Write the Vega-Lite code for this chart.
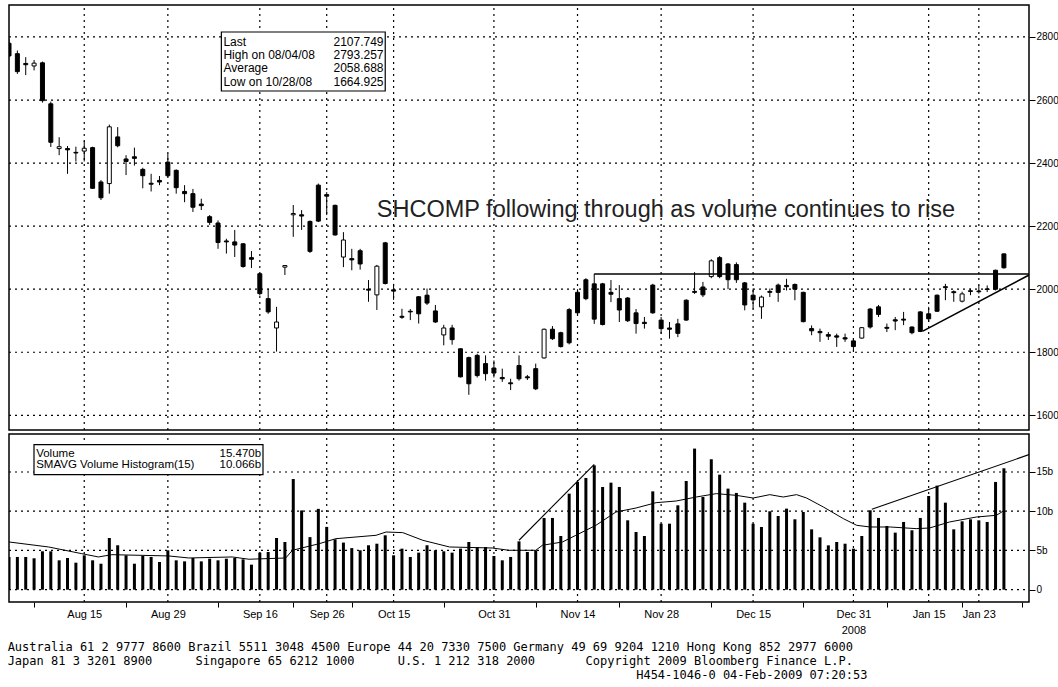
{
  "$schema": "https://vega.github.io/schema/vega-lite/v6.json",
  "background": "white",
  "padding": {"left": 7, "top": 3, "right": 0, "bottom": 0},
  "config": {
    "font": "Liberation Sans",
    "view": {"stroke": "#000", "strokeWidth": 1.5},
    "scale": {"continuousPadding": 0},
    "axis": {"labelFont": "Liberation Sans", "labelColor": "#000", "tickColor": "#000", "domainColor": "#000", "labelFontSize": 10, "grid": false}
  },
  "datasets": {
    "candles": [
      {"i":0,"o":2780,"h":2793,"l":2735,"c":2740,"vol":4.17},
      {"i":1,"o":2747,"h":2757,"l":2683,"c":2690,"vol":4.17},
      {"i":2,"o":2716,"h":2736,"l":2679,"c":2712,"vol":4.17},
      {"i":3,"o":2708,"h":2727,"l":2694,"c":2717,"vol":4.0},
      {"i":4,"o":2718,"h":2722,"l":2592,"c":2598,"vol":4.89},
      {"i":5,"o":2588,"h":2595,"l":2451,"c":2466,"vol":4.89},
      {"i":6,"o":2446,"h":2482,"l":2425,"c":2452,"vol":3.74},
      {"i":7,"o":2446,"h":2454,"l":2366,"c":2442,"vol":4.04},
      {"i":8,"o":2434,"h":2452,"l":2405,"c":2432,"vol":3.44},
      {"i":9,"o":2438,"h":2470,"l":2405,"c":2447,"vol":4.38},
      {"i":10,"o":2449,"h":2452,"l":2318,"c":2320,"vol":3.74},
      {"i":11,"o":2340,"h":2346,"l":2283,"c":2290,"vol":3.31},
      {"i":12,"o":2335,"h":2522,"l":2303,"c":2515,"vol":6.59},
      {"i":13,"o":2483,"h":2514,"l":2450,"c":2455,"vol":5.66},
      {"i":14,"o":2413,"h":2425,"l":2362,"c":2405,"vol":4.38},
      {"i":15,"o":2420,"h":2449,"l":2392,"c":2415,"vol":3.31},
      {"i":16,"o":2380,"h":2385,"l":2320,"c":2360,"vol":4.29},
      {"i":17,"o":2336,"h":2366,"l":2310,"c":2333,"vol":4.17},
      {"i":18,"o":2345,"h":2359,"l":2330,"c":2340,"vol":3.53},
      {"i":19,"o":2403,"h":2430,"l":2356,"c":2360,"vol":5.02},
      {"i":20,"o":2377,"h":2380,"l":2303,"c":2322,"vol":3.74},
      {"i":21,"o":2310,"h":2330,"l":2276,"c":2303,"vol":3.61},
      {"i":22,"o":2303,"h":2318,"l":2245,"c":2260,"vol":4.04},
      {"i":23,"o":2270,"h":2287,"l":2251,"c":2265,"vol":3.61},
      {"i":24,"o":2230,"h":2235,"l":2204,"c":2212,"vol":3.95},
      {"i":25,"o":2210,"h":2218,"l":2128,"c":2148,"vol":3.74},
      {"i":26,"o":2153,"h":2160,"l":2113,"c":2150,"vol":3.95},
      {"i":27,"o":2150,"h":2188,"l":2102,"c":2140,"vol":4.04},
      {"i":28,"o":2144,"h":2146,"l":2068,"c":2072,"vol":3.87},
      {"i":29,"o":2100,"h":2121,"l":2067,"c":2095,"vol":3.19},
      {"i":30,"o":2049,"h":2052,"l":1980,"c":1986,"vol":4.72},
      {"i":31,"o":1970,"h":2002,"l":1922,"c":1928,"vol":4.80},
      {"i":32,"o":1877,"h":1944,"l":1802,"c":1896,"vol":6.59},
      {"i":33,"o":2070,"h":2075,"l":2045,"c":2075,"vol":6.08},
      {"i":34,"o":2236,"h":2267,"l":2166,"c":2240,"vol":14.1},
      {"i":35,"o":2236,"h":2251,"l":2188,"c":2232,"vol":10.1},
      {"i":36,"o":2215,"h":2218,"l":2115,"c":2120,"vol":6.7},
      {"i":37,"o":2330,"h":2335,"l":2213,"c":2216,"vol":10.3},
      {"i":38,"o":2300,"h":2308,"l":2235,"c":2295,"vol":8.0},
      {"i":39,"o":2266,"h":2268,"l":2170,"c":2172,"vol":6.42},
      {"i":40,"o":2102,"h":2181,"l":2070,"c":2156,"vol":6.0},
      {"i":41,"o":2097,"h":2128,"l":2060,"c":2093,"vol":5.3},
      {"i":42,"o":2122,"h":2128,"l":2062,"c":2080,"vol":5.02},
      {"i":43,"o":2000,"h":2029,"l":1960,"c":1997,"vol":5.66},
      {"i":44,"o":1982,"h":2077,"l":1934,"c":2073,"vol":5.86},
      {"i":45,"o":2147,"h":2150,"l":2015,"c":2018,"vol":6.93},
      {"i":46,"o":1998,"h":2017,"l":1966,"c":1994,"vol":4.38},
      {"i":47,"o":1914,"h":1938,"l":1906,"c":1911,"vol":5.23},
      {"i":48,"o":1930,"h":1937,"l":1902,"c":1928,"vol":4.17},
      {"i":49,"o":1976,"h":1978,"l":1891,"c":1922,"vol":4.72},
      {"i":50,"o":1981,"h":2002,"l":1950,"c":1956,"vol":5.66},
      {"i":51,"o":1931,"h":1950,"l":1893,"c":1896,"vol":5.02},
      {"i":52,"o":1855,"h":1887,"l":1822,"c":1877,"vol":4.89},
      {"i":53,"o":1877,"h":1887,"l":1824,"c":1840,"vol":4.72},
      {"i":54,"o":1811,"h":1812,"l":1720,"c":1722,"vol":5.23},
      {"i":55,"o":1783,"h":1786,"l":1665,"c":1700,"vol":6.08},
      {"i":56,"o":1790,"h":1795,"l":1720,"c":1726,"vol":5.44},
      {"i":57,"o":1764,"h":1790,"l":1710,"c":1732,"vol":5.44},
      {"i":58,"o":1750,"h":1774,"l":1720,"c":1734,"vol":4.29},
      {"i":59,"o":1720,"h":1748,"l":1706,"c":1716,"vol":3.74},
      {"i":60,"o":1703,"h":1716,"l":1680,"c":1700,"vol":4.17},
      {"i":61,"o":1758,"h":1790,"l":1710,"c":1716,"vol":6.16},
      {"i":62,"o":1722,"h":1728,"l":1712,"c":1719,"vol":4.80},
      {"i":63,"o":1748,"h":1764,"l":1680,"c":1684,"vol":5.02},
      {"i":64,"o":1782,"h":1875,"l":1780,"c":1873,"vol":9.14},
      {"i":65,"o":1873,"h":1883,"l":1839,"c":1843,"vol":9.14},
      {"i":66,"o":1862,"h":1865,"l":1815,"c":1818,"vol":6.84},
      {"i":67,"o":1935,"h":1940,"l":1825,"c":1830,"vol":12.24},
      {"i":68,"o":1990,"h":2000,"l":1920,"c":1925,"vol":13.73},
      {"i":69,"o":2030,"h":2035,"l":1965,"c":1970,"vol":14.24},
      {"i":70,"o":2017,"h":2049,"l":1890,"c":1905,"vol":15.85},
      {"i":71,"o":2017,"h":2020,"l":1885,"c":1888,"vol":13.09},
      {"i":72,"o":1990,"h":2029,"l":1959,"c":1984,"vol":13.64},
      {"i":73,"o":1970,"h":2013,"l":1896,"c":1934,"vol":13.09},
      {"i":74,"o":1972,"h":1975,"l":1896,"c":1900,"vol":8.84},
      {"i":75,"o":1925,"h":1937,"l":1859,"c":1891,"vol":7.35},
      {"i":76,"o":1895,"h":1912,"l":1875,"c":1891,"vol":6.84},
      {"i":77,"o":2013,"h":2017,"l":1922,"c":1925,"vol":12.53},
      {"i":78,"o":1902,"h":1912,"l":1859,"c":1875,"vol":8.41},
      {"i":79,"o":1877,"h":1896,"l":1843,"c":1873,"vol":8.41},
      {"i":80,"o":1890,"h":1906,"l":1848,"c":1860,"vol":10.75},
      {"i":81,"o":1965,"h":1968,"l":1900,"c":1902,"vol":13.85},
      {"i":82,"o":1993,"h":2054,"l":1985,"c":1990,"vol":17.98},
      {"i":83,"o":2007,"h":2023,"l":1975,"c":1982,"vol":11.81},
      {"i":84,"o":2040,"h":2095,"l":2035,"c":2090,"vol":16.62},
      {"i":85,"o":2100,"h":2105,"l":2035,"c":2040,"vol":14.66},
      {"i":86,"o":2080,"h":2083,"l":2000,"c":2030,"vol":12.88},
      {"i":87,"o":2078,"h":2085,"l":2020,"c":2030,"vol":12.33},
      {"i":88,"o":2020,"h":2023,"l":1933,"c":1950,"vol":11.09},
      {"i":89,"o":1981,"h":2002,"l":1938,"c":1966,"vol":8.41},
      {"i":90,"o":1944,"h":1980,"l":1906,"c":1975,"vol":7.99},
      {"i":91,"o":1993,"h":2002,"l":1975,"c":1990,"vol":9.99},
      {"i":92,"o":2013,"h":2018,"l":1960,"c":1990,"vol":9.39},
      {"i":93,"o":2012,"h":2033,"l":1996,"c":2008,"vol":10.33},
      {"i":94,"o":2015,"h":2018,"l":1965,"c":2000,"vol":8.97},
      {"i":95,"o":1990,"h":1992,"l":1895,"c":1897,"vol":9.90},
      {"i":96,"o":1875,"h":1885,"l":1854,"c":1868,"vol":7.69},
      {"i":97,"o":1866,"h":1875,"l":1833,"c":1862,"vol":6.67},
      {"i":98,"o":1856,"h":1864,"l":1839,"c":1851,"vol":5.65},
      {"i":99,"o":1852,"h":1859,"l":1817,"c":1848,"vol":6.08},
      {"i":100,"o":1846,"h":1859,"l":1833,"c":1842,"vol":5.86},
      {"i":101,"o":1836,"h":1843,"l":1806,"c":1818,"vol":5.23},
      {"i":102,"o":1845,"h":1880,"l":1843,"c":1878,"vol":6.84},
      {"i":103,"o":1937,"h":1940,"l":1875,"c":1880,"vol":10.12},
      {"i":104,"o":1944,"h":1950,"l":1912,"c":1920,"vol":9.14},
      {"i":105,"o":1879,"h":1891,"l":1864,"c":1876,"vol":8.12},
      {"i":106,"o":1903,"h":1912,"l":1870,"c":1899,"vol":7.27},
      {"i":107,"o":1905,"h":1928,"l":1886,"c":1902,"vol":8.63},
      {"i":108,"o":1880,"h":1882,"l":1857,"c":1862,"vol":7.57},
      {"i":109,"o":1928,"h":1930,"l":1864,"c":1866,"vol":9.14},
      {"i":110,"o":1922,"h":1944,"l":1896,"c":1906,"vol":11.94},
      {"i":111,"o":1981,"h":1983,"l":1928,"c":1930,"vol":13.26},
      {"i":112,"o":2008,"h":2017,"l":1965,"c":2005,"vol":11.09},
      {"i":113,"o":1992,"h":1996,"l":1960,"c":1989,"vol":7.69},
      {"i":114,"o":1962,"h":1992,"l":1958,"c":1985,"vol":8.71},
      {"i":115,"o":1995,"h":2002,"l":1981,"c":1993,"vol":8.97},
      {"i":116,"o":1994,"h":2012,"l":1986,"c":1992,"vol":8.84},
      {"i":117,"o":2001,"h":2012,"l":1991,"c":1999,"vol":8.63},
      {"i":118,"o":2060,"h":2062,"l":1996,"c":2000,"vol":13.73},
      {"i":119,"o":2112,"h":2113,"l":2065,"c":2068,"vol":15.47}
    ],
    "sma": [
      {"i":0,"sma":6.08},{"i":4.75,"sma":5.44},{"i":8.7,"sma":4.59},{"i":10.7,"sma":4.17},{"i":12.3,"sma":4.46},
      {"i":19.1,"sma":4.30},{"i":21.5,"sma":4.04},{"i":26.7,"sma":4.17},{"i":28.7,"sma":3.88},{"i":33.1,"sma":4.04},
      {"i":33.9,"sma":5.02},{"i":37.1,"sma":5.86},{"i":39.1,"sma":6.5},{"i":43.9,"sma":6.93},{"i":45.1,"sma":7.35},
      {"i":47.1,"sma":7.27},{"i":49.5,"sma":6.29},{"i":52.7,"sma":5.44},{"i":57.8,"sma":5.31},{"i":59.8,"sma":5.02},
      {"i":63.0,"sma":5.02},{"i":63.8,"sma":5.66},{"i":66.2,"sma":6.08},{"i":67.8,"sma":6.93},{"i":70.2,"sma":8.2},
      {"i":72.6,"sma":9.9},{"i":75.0,"sma":10.41},{"i":77.4,"sma":11.09},{"i":79.8,"sma":11.3},{"i":82.2,"sma":11.81},
      {"i":84.6,"sma":12.24},{"i":87.0,"sma":12.02},{"i":89.0,"sma":11.68},{"i":91.0,"sma":12.11},{"i":92.6,"sma":11.81},
      {"i":94.2,"sma":12.11},{"i":95.4,"sma":11.68},{"i":97.4,"sma":10.54},{"i":99.8,"sma":9.05},{"i":101.4,"sma":8.2},
      {"i":103.0,"sma":7.99},{"i":105.4,"sma":7.99},{"i":108.5,"sma":7.78},{"i":110.1,"sma":7.86},{"i":112.5,"sma":8.63},
      {"i":115.7,"sma":9.26},{"i":118.1,"sma":9.48},{"i":119,"sma":10.07}
    ],
    "trend": [
      {"g":"r","i":70,"v":2048},{"g":"r","i":122,"v":2048},
      {"g":"s","i":109.3,"v":1867},{"g":"s","i":122,"v":2045}
    ],
    "vtrend": [
      {"g":"a","i":61,"v":6.3},{"g":"a","i":70,"v":15.98},
      {"g":"b","i":103.2,"v":10.25},{"g":"b","i":122,"v":17.21}
    ],
    "xgrid": [{"i":9},{"i":19},{"i":30},{"i":38},{"i":46},{"i":58},{"i":68},{"i":78},{"i":89},{"i":101},{"i":110},{"i":116}],
    "pgrid": [{"v":1600},{"v":1800},{"v":2000},{"v":2200},{"v":2400},{"v":2600},{"v":2800}],
    "vgrid": [{"v":0},{"v":5},{"v":10},{"v":15}]
  },
  "title": {
    "text": [
      "Australia 61 2 9777 8600 Brazil 5511 3048 4500 Europe 44 20 7330 7500 Germany 49 69 9204 1210 Hong Kong 852 2977 6000",
      "Japan 81 3 3201 8900\u00a0\u00a0\u00a0\u00a0\u00a0\u00a0Singapore 65 6212 1000\u00a0\u00a0\u00a0\u00a0\u00a0\u00a0U.S. 1 212 318 2000\u00a0\u00a0\u00a0\u00a0\u00a0\u00a0\u00a0Copyright 2009 Bloomberg Finance L.P.",
      "\u200b\u00a0\u00a0\u00a0\u00a0\u00a0\u00a0\u00a0\u00a0\u00a0\u00a0\u00a0\u00a0\u00a0\u00a0\u00a0\u00a0\u00a0\u00a0\u00a0\u00a0\u00a0\u00a0\u00a0\u00a0\u00a0\u00a0\u00a0\u00a0\u00a0\u00a0\u00a0\u00a0\u00a0\u00a0\u00a0\u00a0\u00a0\u00a0\u00a0\u00a0\u00a0\u00a0\u00a0\u00a0\u00a0\u00a0\u00a0\u00a0\u00a0\u00a0\u00a0\u00a0\u00a0\u00a0\u00a0\u00a0\u00a0\u00a0\u00a0\u00a0\u00a0\u00a0\u00a0\u00a0\u00a0\u00a0\u00a0\u00a0\u00a0\u00a0\u00a0\u00a0\u00a0\u00a0\u00a0\u00a0\u00a0\u00a0\u00a0\u00a0\u00a0\u00a0\u00a0\u00a0\u00a0\u00a0\u00a0H454-1046-0 04-Feb-2009 07:20:53"
    ],
    "orient": "bottom",
    "anchor": "start",
    "font": "DejaVu Sans Mono",
    "fontSize": 12,
    "fontWeight": "normal",
    "lineHeight": 14,
    "offset": 0,
    "color": "#000"
  },
  "spacing": 4,
  "bounds": "flush",
  "vconcat": [
    {
      "width": 1020,
      "height": 425,
      "layer": [
        {
          "data": {"name": "xgrid"},
          "mark": {"type": "rule", "color": "#000", "strokeWidth": 1.2, "strokeDash": [2, 4]},
          "encoding": {
            "x": {"field": "i", "type": "quantitative", "scale": {"domain": [0, 122], "nice": false, "zero": false, "padding": 0},
              "axis": {"labels": false, "ticks": false, "domain": false, "grid": false, "title": null, "minExtent": 0, "maxExtent": 0}},
            "y": {"datum": 1553.4, "type": "quantitative", "scale": {"domain": [1553.4, 2901.4], "nice": false, "zero": false, "padding": 0},
              "axis": {"orient": "right", "values": [1600,1700,1800,1900,2000,2100,2200,2300,2400,2500,2600,2700,2800],
                "labelExpr": "datum.value % 200 == 0 ? '' + datum.value : ''",
                "grid": false, "tickSize": 6, "labelPadding": 1, "domain": false, "title": null, "labelFontSize": 10, "labelOverlap": false}},
            "y2": {"datum": 2901.4}
          }
        },
        {
          "data": {"name": "pgrid"},
          "mark": {"type": "rule", "color": "#000", "strokeWidth": 1.2, "strokeDash": [2, 4]},
          "encoding": {
            "y": {"field": "v", "type": "quantitative"},
            "x": {"datum": 0, "type": "quantitative"},
            "x2": {"datum": 122}
          }
        },
        {
          "data": {"name": "candles"},
          "mark": {"type": "rule", "clip": true, "strokeWidth": 1, "color": "#000"},
          "encoding": {
            "x": {"field": "i", "type": "quantitative"},
            "y": {"field": "l", "type": "quantitative"},
            "y2": {"field": "h"}
          }
        },
        {
          "data": {"name": "candles"},
          "mark": {"type": "bar", "orient": "vertical", "size": 4, "clip": true, "stroke": "#000", "strokeWidth": 1},
          "encoding": {
            "x": {"field": "i", "type": "quantitative"},
            "y": {"field": "o", "type": "quantitative"},
            "y2": {"field": "c"},
            "fill": {"condition": {"test": "datum.c > datum.o", "value": "#ffffff"}, "value": "#000000"}
          }
        },
        {
          "data": {"name": "trend"},
          "mark": {"type": "line", "color": "#000", "strokeWidth": 1.6, "clip": true},
          "encoding": {
            "x": {"field": "i", "type": "quantitative"},
            "y": {"field": "v", "type": "quantitative"},
            "detail": {"field": "g"}
          }
        },
        {
          "data": {"values": [{}]},
          "mark": {"type": "rect", "fill": "#ffffff", "stroke": "#000", "strokeWidth": 1.2},
          "encoding": {
            "x": {"datum": 25.4, "type": "quantitative"},
            "x2": {"datum": 45.0},
            "y": {"datum": 2815.7, "type": "quantitative"},
            "y2": {"datum": 2628.6}
          }
        },
        {
          "data": {"values": [{}]},
          "mark": {"type": "text", "align": "left", "baseline": "top", "fontSize": 12, "lineHeight": 13.3, "font": "Liberation Sans", "color": "#000"},
          "encoding": {
            "x": {"datum": 25.65, "type": "quantitative"},
            "y": {"datum": 2801, "type": "quantitative"},
            "text": {"value": ["Last", "High on 08/04/08", "Average", "Low on 10/28/08"]}
          }
        },
        {
          "data": {"values": [{}]},
          "mark": {"type": "text", "align": "right", "baseline": "top", "fontSize": 12, "lineHeight": 13.3, "font": "Liberation Sans", "color": "#000"},
          "encoding": {
            "x": {"datum": 44.8, "type": "quantitative"},
            "y": {"datum": 2801, "type": "quantitative"},
            "text": {"value": ["2107.749", "2793.257", "2058.688", "1664.925"]}
          }
        },
        {
          "data": {"values": [{}]},
          "mark": {"type": "text", "align": "left", "baseline": "alphabetic", "fontSize": 23.5, "font": "Liberation Sans", "color": "#222"},
          "encoding": {
            "x": {"datum": 44.0, "type": "quantitative"},
            "y": {"datum": 2229, "type": "quantitative"},
            "text": {"value": "SHCOMP following through as volume continues to rise"}
          }
        }
      ]
    },
    {
      "spacing": 0,
      "bounds": "flush",
      "vconcat": [
        {
          "width": 1020,
          "height": 168,
          "layer": [
            {
              "data": {"name": "xgrid"},
              "mark": {"type": "rule", "color": "#000", "strokeWidth": 1.2, "strokeDash": [2, 4]},
              "encoding": {
                "x": {"field": "i", "type": "quantitative", "scale": {"domain": [0, 122], "nice": false, "zero": false, "padding": 0},
                  "axis": {"orient": "bottom",
                    "values": [3,9,14,19,25,30,34,38,41,46,52,58,63,68,73,78,84,89,95,101,105,110,114,116,121.2],
                    "grid": false,
                    "ticks": true, "tickSize": 5,
                    "tickOpacity": {"condition": {"test": "indexof([9,19,30,38,46,58,68,78,89,101,110,116], datum.value) >= 0", "value": 0}, "value": 1},
                    "labelExpr": "indexof([9,19,30,38,46,58,68,78,89,101,110,116], datum.value) < 0 ? '' : [['Aug 15'],['Aug 29'],['Sep 16'],['Sep 26'],['Oct 15'],['Oct 31'],['Nov 14'],['Nov 28'],['Dec 15'],['Dec 31','2008'],['Jan 15'],['Jan 23']][indexof([9,19,30,38,46,58,68,78,89,101,110,116], datum.value)]",
                    "labelPadding": 1, "labelFontSize": 11, "labelLineHeight": 16, "labelOverlap": false, "labelFlush": false, "labelBound": false,
                    "domain": false, "title": null}},
                "y": {"datum": -1.57, "type": "quantitative", "scale": {"domain": [-1.57, 19.84], "nice": false, "zero": false, "padding": 0},
                  "axis": {"orient": "right", "values": [0,2.5,5,7.5,10,12.5,15,17.5],
                    "labelExpr": "datum.value == 0 ? '0' : (datum.value % 5 == 0 ? datum.value + 'b' : '')",
                    "grid": false, "tickSize": 6, "labelPadding": 1, "domain": false, "title": null, "labelFontSize": 10, "labelOverlap": false}},
                "y2": {"datum": 19.84}
              }
            },
            {
              "data": {"name": "vgrid"},
              "mark": {"type": "rule", "color": "#000", "strokeWidth": 1.2, "strokeDash": [2, 4]},
              "encoding": {
                "y": {"field": "v", "type": "quantitative"},
                "x": {"datum": 0, "type": "quantitative"},
                "x2": {"datum": 122}
              }
            },
            {
              "data": {"name": "candles"},
              "mark": {"type": "bar", "orient": "vertical", "size": 3, "clip": true, "color": "#000"},
              "encoding": {
                "x": {"field": "i", "type": "quantitative"},
                "y": {"field": "vol", "type": "quantitative", "stack": null},
                "y2": {"datum": 0}
              }
            },
            {
              "data": {"name": "sma"},
              "mark": {"type": "line", "color": "#000", "strokeWidth": 1, "clip": true},
              "encoding": {
                "x": {"field": "i", "type": "quantitative"},
                "y": {"field": "sma", "type": "quantitative"}
              }
            },
            {
              "data": {"name": "vtrend"},
              "mark": {"type": "line", "color": "#000", "strokeWidth": 1.1, "clip": true},
              "encoding": {
                "x": {"field": "i", "type": "quantitative"},
                "y": {"field": "v", "type": "quantitative"},
                "detail": {"field": "g"}
              }
            },
            {
              "data": {"values": [{}]},
              "mark": {"type": "rect", "fill": "#ffffff", "stroke": "#000", "strokeWidth": 1.2},
              "encoding": {
                "x": {"datum": 2.99, "type": "quantitative"},
                "x2": {"datum": 30.38},
                "y": {"datum": 18.48, "type": "quantitative"},
                "y2": {"datum": 14.65}
              }
            },
            {
              "data": {"values": [{}]},
              "mark": {"type": "text", "align": "left", "baseline": "top", "fontSize": 11.5, "lineHeight": 10.8, "font": "Liberation Sans", "color": "#000"},
              "encoding": {
                "x": {"datum": 3.25, "type": "quantitative"},
                "y": {"datum": 18.0, "type": "quantitative"},
                "text": {"value": ["Volume", "SMAVG Volume Histogram(15)"]}
              }
            },
            {
              "data": {"values": [{}]},
              "mark": {"type": "text", "align": "right", "baseline": "top", "fontSize": 11.5, "lineHeight": 10.8, "font": "Liberation Sans", "color": "#000"},
              "encoding": {
                "x": {"datum": 30.15, "type": "quantitative"},
                "y": {"datum": 18.0, "type": "quantitative"},
                "text": {"value": ["15.470b", "10.066b"]}
              }
            }
          ]
        },
        {
          "width": 1014,
          "height": 40,
          "data": {"values": [{}]},
          "mark": {"type": "point", "opacity": 0}
        }
      ]
    }
  ]
}
